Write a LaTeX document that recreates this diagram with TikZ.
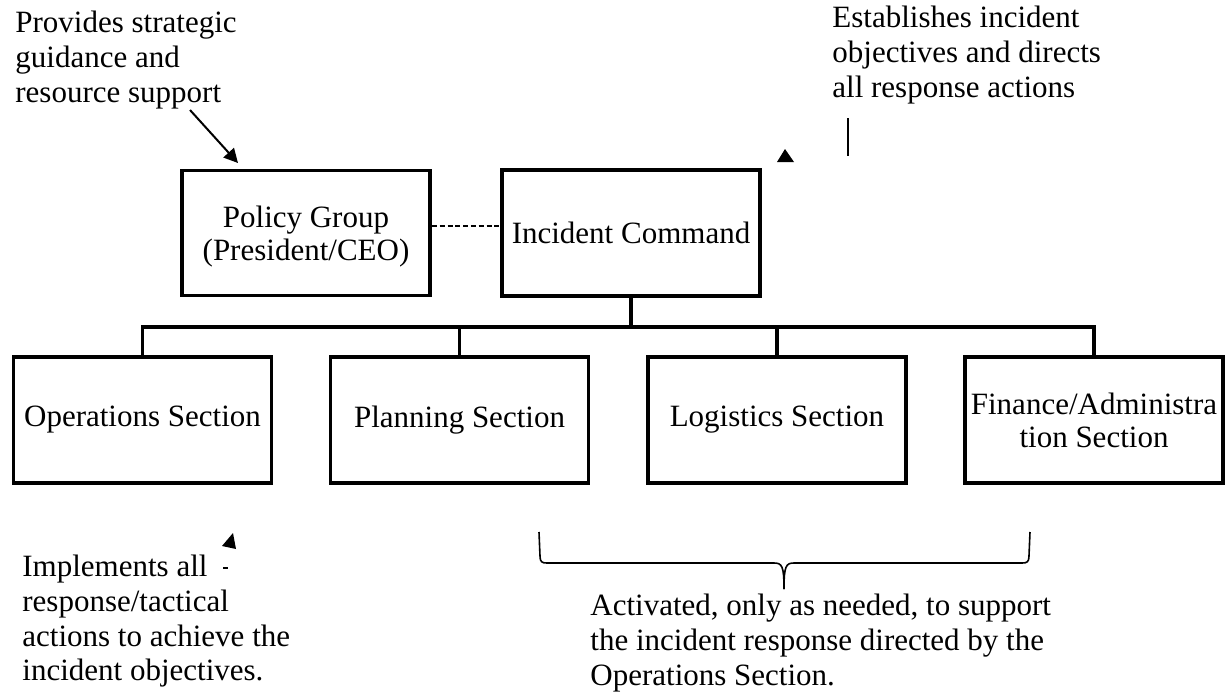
\documentclass[tikz,border=0pt]{standalone}
\usepackage{fontspec}
\setmainfont{Liberation Serif}
\usetikzlibrary{arrows.meta}
\begin{document}
\begin{tikzpicture}[x=0.5pt,y=-0.5pt,
  box/.style={draw, line width=1.9pt, minimum width=129pt, minimum height=63pt, inner sep=0pt, align=center, font=\fontsize{15.5}{16.5}\selectfont},
  note/.style={anchor=north west, inner sep=0pt, align=left, font=\fontsize{15.5}{17.3}\selectfont},
  conn/.style={line width=1.8pt},
  thin line/.style={line width=0.8pt},
  arr/.style={line width=1pt, -{Triangle[length=7pt,width=7pt]}},
]
\useasboundingbox (0,0) rectangle (1228,692);
\node[box, minimum width=124pt, minimum height=62.5pt] (policy) at (306,233) {\rule{0pt}{14pt}Policy Group\\(President/CEO)};
\node[box] (ic) at (631,233) {Incident Command};
\node[box] (ops) at (142.5,420) {Operations Section};
\node[box] (plan) at (459.5,420) {Planning Section};
\node[box] (log) at (777,420) {Logistics Section};
\node[box] (fin) at (1094,420) {Finance/Administra\\tion Section};
\coordinate (bus) at (0,327);
\draw[conn] (ops.north) -- (ops.north |- bus) -- (fin.north |- bus) -- (fin.north);
\draw[conn] (plan.north) -- (plan.north |- bus);
\draw[conn] (log.north) -- (log.north |- bus);
\draw[conn] (ic.south) -- (ic.south |- bus);
\draw[line width=1pt, dash pattern=on 2.5pt off 1.4pt] ([yshift=3.5pt]policy.east) -- ([yshift=3.5pt]ic.west);

\node[note] (n1) at (15,11) {Provides strategic\\guidance and\\resource support};
\node[note] (n2) at (832,6) {Establishes incident\\objectives and directs\\all response actions};
\node[note] (n3) at (22,555) {Implements all\\response/tactical\\actions to achieve the\\incident objectives.};
\node[note] (n4) at (590,594) {Activated, only as needed, to support\\the incident response directed by the\\Operations Section.};

\coordinate (a1) at (190,110);
\coordinate (a2) at (238,163);
\draw[arr] (a1) -- (a2);
\fill (777,162) -- (785,149) -- (794,162) -- cycle;
\coordinate (v1) at (848,118);
\coordinate (v2) at (848,156);
\draw[thin line] (v1) -- (v2);
\fill (222,546) -- (233,533) -- (236,549) -- cycle;
\coordinate (h1) at (223,568);
\coordinate (h2) at (228,568);
\draw[thin line] (h1) -- (h2);

\draw[thin line] (539,532) -- (540,556) .. controls (540,562) and (542,563) .. (547,563) -- (774,563) .. controls (782,563) and (784,566) .. (784,589);
\draw[thin line] (1030,532) -- (1029,556) .. controls (1029,562) and (1027,563) .. (1022,563) -- (794,563) .. controls (786,563) and (784,566) .. (784,589);
\end{tikzpicture}
\end{document}
